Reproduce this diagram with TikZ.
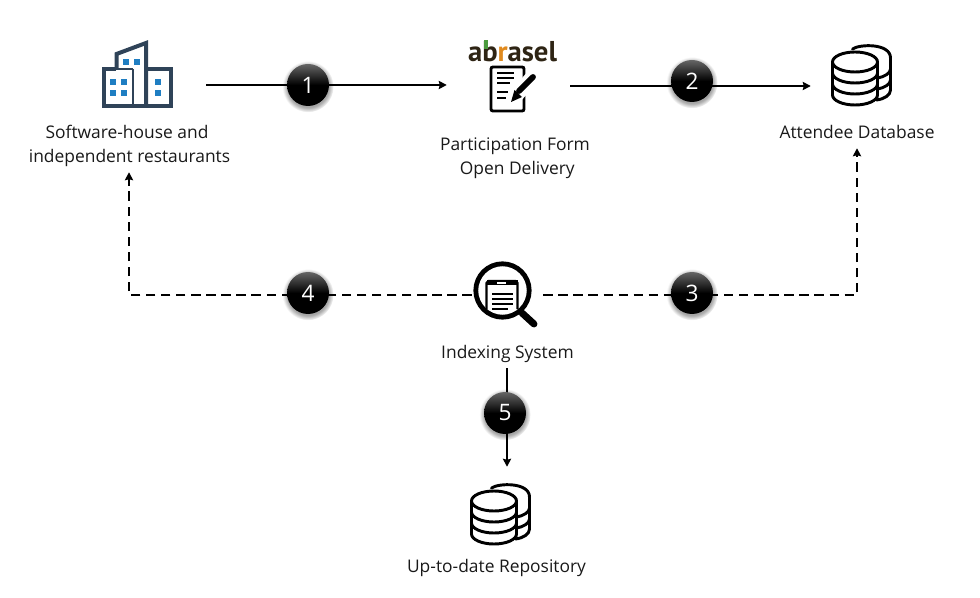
\documentclass[tikz,border=0pt]{standalone}
\usepackage{fontspec}
\setmainfont{Open Sans}
\newfontfamily\brandfont{PT Sans}
\usetikzlibrary{calc,positioning,arrows.meta,shadows,fadings}
\definecolor{slateblue}{HTML}{2F4358}
\definecolor{winblue}{HTML}{1F7EC2}
\definecolor{brandorange}{HTML}{E08A1E}
\definecolor{brandgreen}{HTML}{4A9A3C}
\definecolor{branddark}{HTML}{2E2414}
\tikzset{
    flow/.style={line width=1.3pt, -{Stealth[length=6pt,width=6.2pt,inset=0.8pt]}},
    dashflow/.style={flow, dash pattern=on 7pt off 4.3pt},
    badge/.style={circle, minimum size=31.5pt, inner sep=0pt, text=white, font=\fontsize{17}{17}\selectfont,
        top color=black!60, bottom color=black, middle color=black,
        drop shadow={shadow xshift=0pt, shadow yshift=-1pt, shadow scale=1.22, fill=black, opacity=0.35,
            path fading=circle with fuzzy edge 20 percent}},
    caption/.style={align=center, font=\fontsize{13.05}{18}\selectfont, text=black!90, inner sep=0pt},
    anchorbox/.style={inner sep=0pt, minimum size=0pt},
    icon/.style={line width=2.2pt, line join=round, line cap=round},
    win/.style={fill=winblue, draw=none},
    dbicon/.pic={
        % back stack
        \draw[icon] (20,-13) .. controls (27,-18) and (58,-19) .. (58,-4) -- (58,28) .. controls (58,33) and (52,37) .. (44,38);
        \draw[icon] (45,16) .. controls (52,15) and (58,11) .. (58,7);
        \draw[icon] (45,27) .. controls (52,26) and (58,22) .. (58,18);
        % front stack
        \draw[icon, fill=white] (0,0) arc[start angle=180, end angle=-180, x radius=22.5, y radius=-10];
        \draw[icon] (0,0) -- (0,33) (45,0) -- (45,33);
        \draw[icon] (0,11) arc[start angle=180, end angle=360, x radius=22.5, y radius=-10];
        \draw[icon] (0,22) arc[start angle=180, end angle=360, x radius=22.5, y radius=-10];
        \draw[icon] (0,33) arc[start angle=180, end angle=360, x radius=22.5, y radius=-10];
    },
}
\begin{document}
\begin{tikzpicture}[x=0.75pt, y=-0.75pt]
    \useasboundingbox (0,0) rectangle (980,598);

    % Anchors for the connectors
    \node[anchorbox] (firm) at (206,85) {};
    \node[anchorbox] (formin) at (447,85) {};
    \node[anchorbox] (formout) at (570,86) {};
    \node[anchorbox] (dbin) at (811,86) {};
    \node[anchorbox] (dbbelow) at (857,148) {};
    \node[anchorbox] (firmbelow) at (129,172) {};
    \node[anchorbox] (lensleft) at (472,295) {};
    \node[anchorbox] (lensright) at (543,295) {};
    \node[anchorbox] (lensbelow) at (507,368) {};
    \node[anchorbox] (repotop) at (507,467) {};
    \coordinate (cornerl) at (129,295);
    \coordinate (cornerr) at (857,295);

    % Building icon
    \draw[slateblue, line width=3pt, line join=miter] (116.5,70) -- (116.5,54) -- (146,43) -- (146,106);
    \draw[slateblue, line width=1.6pt] (133,69) -- (133,106);
    \draw[slateblue, line width=3pt] (116,69) -- (103.5,69) -- (103.5,106) -- (171,106) -- (171,69) -- (146,69);
    \draw[slateblue, line width=1.6pt] (116,69) -- (133,69);
    \foreach \wx/\wy in {110/79, 120.5/79, 110/90, 120.5/90, 123/59, 134/59, 155/79, 155/90}
        \fill[win] (\wx,\wy) rectangle ++(6.3,6.3);

    % Form icon
    \node[anchorbox, font=\brandfont\fontsize{21.5}{21.5}\selectfont\bfseries, text=branddark] (brand) at (512.5,51.5)
        {ab{\color{brandorange}r}asel};
    \fill[brandgreen] (484.2,40) rectangle (488,49);
    \draw[line width=2.2pt, rounded corners=1.5pt] (491,67) rectangle (524,111);
    \foreach \ly/\lx in {73/514, 78/514, 83/510, 92/508, 98/506}
        \draw[line width=1.5pt] (497,\ly) -- (\lx,\ly);
    \fill[white] (510,92) -- (529,70) -- (540,80) -- (518,104) -- (510,104) -- cycle;
    \draw[line width=4.4pt, line cap=round] (519,91) -- (533,77);
    \fill (511,102) -- (514.5,90) -- (522,97) -- cycle;

    % Database icons
    \pic at (832.5,62) {dbicon};
    \pic at (471.5,501) {dbicon};

    % Search icon
    \draw[line width=3.6pt] (502.5,290.5) circle (26.7);
    \draw[line width=5.2pt, line cap=round] (522,313) -- (534,324);
    \draw[line width=1.8pt, line join=round] (486.5,309) -- (486.5,283) -- (488.5,281) -- (515.5,281) -- (517.5,283) -- (517.5,309);
    \fill (486.5,280) rectangle (517.5,285.5);
    \fill[white] (497,282) rectangle (506,284);
    \foreach \ly/\lx in {294/513, 299/513, 304/513, 309/508}
        \draw[line width=1.5pt] (492,\ly) -- (\lx,\ly);

    % Captions
    \node[caption] (firmtxt) at (129.5,146) {Software-house and\hspace*{3.75pt}\\independent restaurants};
    \node[caption] (formtxt) at (515,158) {Participation Form\\\ Open Delivery};
    \node[caption] (dbtxt) at (857,132) {Attendee Database};
    \node[caption] (lenstxt) at (507.5,354) {Indexing System};
    \node[caption] (repotxt) at (496.5,568) {Up-to-date Repository};

    % Connectors
    \draw[flow] (firm) -- (formin);
    \draw[flow] (formout) -- (dbin);
    \draw[dashflow] (lensright) -- (cornerr) -- (dbbelow);
    \draw[dashflow] (lensleft) -- (cornerl) -- (firmbelow);
    \draw[flow] (lensbelow) -- (repotop);

    % Numbered badges
    \node[badge] (one) at (308,85) {1};
    \node[badge] (two) at (692,81) {2};
    \node[badge] (three) at (692,293) {3};
    \node[badge] (four) at (308,293) {4};
    \node[badge] (five) at (505,413) {5};
\end{tikzpicture}
\end{document}
